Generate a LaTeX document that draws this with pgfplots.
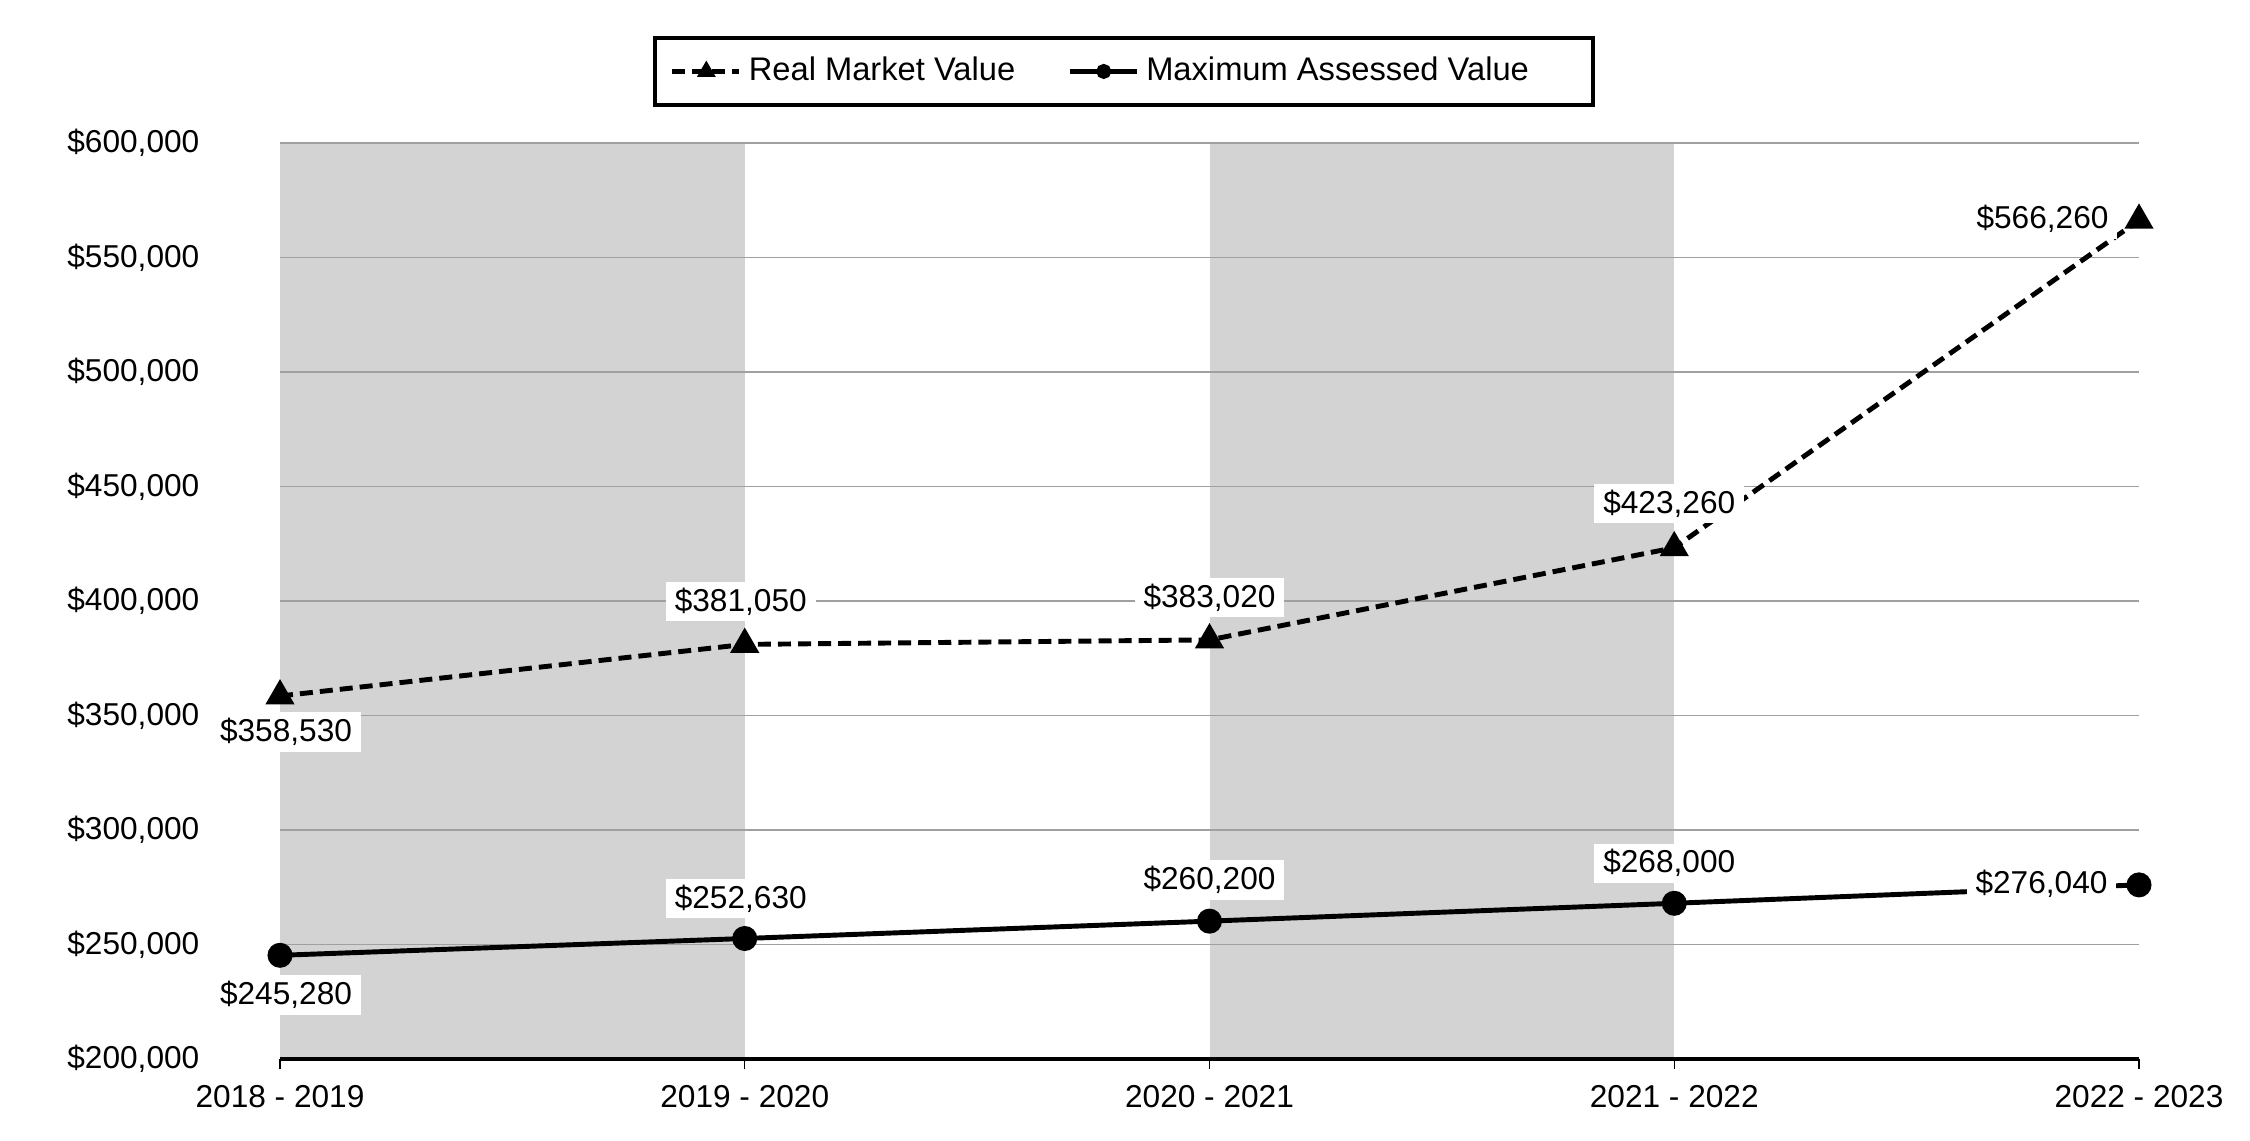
\documentclass[border=0pt]{standalone}
\usepackage{fontspec}
\setmainfont{Liberation Sans}
\usepackage{pgfplots}
\usepackage{pgfplotstable}
\pgfplotsset{compat=1.18}
\usetikzlibrary{calc}

\definecolor{bandgray}{RGB}{211,211,211}
\definecolor{gridgray}{RGB}{160,160,160}

% x, value, label centre offset from the point (mm)
\pgfplotstableread{
x y dx dy
0 358530 0.6 -3.6
1 381050 -0.4 4.3
2 383020 0 4.25
3 423260 -0.5 4.4
4 566260 -9.65 0.1
}\rmv

\pgfplotstableread{
x y dx dy
0 245280 0.6 -3.95
1 252630 -0.4 4.0
2 260200 0 4.1
3 268000 -0.5 4.0
4 276040 -9.75 0.1
}\mav

\pgfplotsset{
    valuelabels/.style={
        nodes near coords={\$\pgfmathprintnumber[fixed,precision=0,1000 sep={,}]{\pgfplotspointmeta}},
        visualization depends on={\thisrow{dx} \as \dx},
        visualization depends on={\thisrow{dy} \as \dy},
        every node near coord/.append style={anchor=center, xshift=\dx mm, yshift=\dy mm,
            fill=white, text=black, inner xsep=0.9mm, inner ysep=0.6mm,
            font=\fontsize{9}{11}\selectfont},
    },
}

\begin{document}
\begin{tikzpicture}
\begin{axis}[
    set layers,
    scale only axis,
    width=18.59cm, height=9.16cm,
    xmin=0, xmax=4, ymin=200000, ymax=600000,
    clip=false,
    font=\fontsize{9}{11}\selectfont,
    /pgf/number format/assume math mode=true,
    axis x line=bottom,
    axis y line=left,
    x axis line style={-, line width=1pt, black},
    y axis line style={draw=none},
    xtick={0,1,2,3,4},
    xticklabels={2018 - 2019, 2019 - 2020, 2020 - 2021, 2021 - 2022, 2022 - 2023},
    tick align=outside,
    major tick length=1mm,
    xtick style={black, line width=0.4pt},
    ytick style={draw=none},
    ytick={200000,250000,...,600000},
    scaled y ticks=false,
    yticklabel={\$\pgfmathprintnumber[fixed,precision=0,1000 sep={,}]{\tick}},
    yticklabel style={anchor=east, inner sep=0pt, xshift=-7.0mm},
    xticklabel style={anchor=north, inner sep=0pt, yshift=-1.6mm},
    ymajorgrids,
    major grid style={gridgray, line width=0.45pt},
    legend columns=2,
    legend cell align=left,
    legend style={at={(0.2006,1.1168)}, anchor=north west, draw=black,
        line width=1.1pt, inner xsep=1.5mm, inner ysep=1.2mm,
        font=\fontsize{9.3}{11}\selectfont,
        /tikz/every even column/.append style={column sep=4.5mm}},
    legend image code/.code={
        \draw[mark repeat=2,mark phase=2,#1,every mark/.append style={scale=0.5}]
            plot coordinates {(0cm,0cm) (0.34cm,0cm) (0.67cm,0cm)};},
]
\addplot[forget plot, on layer=axis background, fill=bandgray, draw=none]
    coordinates {(0,200000) (1,200000) (1,600000) (0,600000)} -- cycle;
\addplot[forget plot, on layer=axis background, fill=bandgray, draw=none]
    coordinates {(2,200000) (3,200000) (3,600000) (2,600000)} -- cycle;

\addplot[black, line width=1.4pt, dash pattern=on 3.7pt off 2pt,
    mark=triangle*, mark size=3.4pt, mark options={solid}, valuelabels]
    table[x=x, y=y] {\rmv};
\addlegendentry{Real Market Value}

\addplot[black, line width=1.4pt, mark=*, mark size=2.85pt, valuelabels]
    table[x=x, y=y] {\mav};
\addlegendentry{Maximum Assessed Value\hspace*{4.2mm}}
\end{axis}
\pgfresetboundingbox
\useasboundingbox ($(current axis.south west)+(-2.80cm,-0.81cm)$)
    rectangle ($(current axis.north east)+(1.11cm,1.43cm)$);
\end{tikzpicture}
\end{document}
